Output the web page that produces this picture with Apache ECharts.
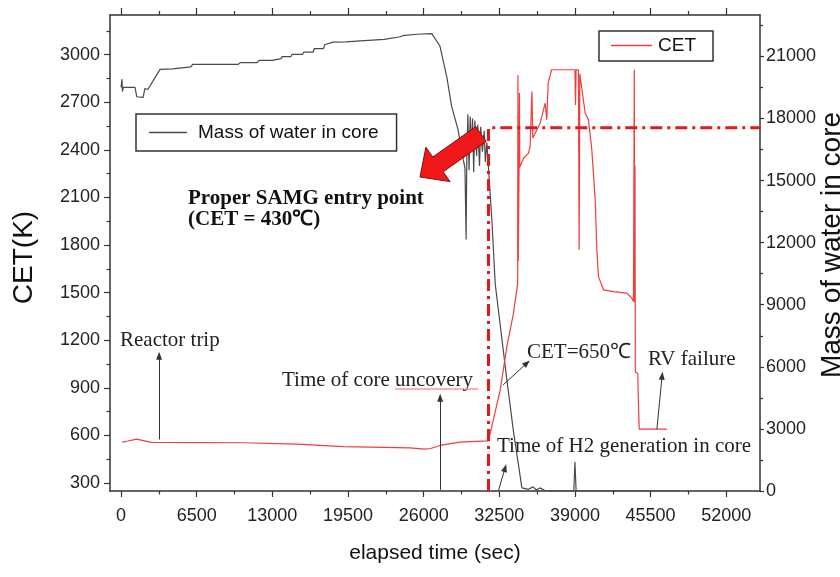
<!DOCTYPE html>
<html>
<head>
    <meta charset="utf-8">
    <title>CET and core water mass</title>
    <script src="https://cdn.jsdelivr.net/npm/echarts@6.0.0/dist/echarts.min.js"></script>
    <style>
        body { margin: 0; background: #fff; }
    </style>
</head>
<body>
<div id="main" style="width: 840px;height:577px;"></div>
<script type="text/javascript">
    // tick positions
    var xMajor = [0, 6500, 13000, 19500, 26000, 32500, 39000, 45500, 52000];
    var xMinor = [3250, 9750, 16250, 22750, 29250, 35750, 42250, 48750];
    var cetTicks = [300, 600, 900, 1200, 1500, 1800, 2100, 2400, 2700, 3000];
    var cetMinor = [450, 750, 1050, 1350, 1650, 1950, 2250, 2550, 2850, 3150];
    var massTicks = [0, 3000, 6000, 9000, 12000, 15000, 18000, 21000];
    var massMinor = [1500, 4500, 7500, 10500, 13500, 16500, 19500, 22500];

    // mass of water in core (right axis)
    var massTime = [0, 80, 120, 200, 1200, 1350, 1900, 2050, 2300, 3350, 4450, 4600, 6000, 6150,
        10050, 10250, 11700, 11850, 13000, 13100, 13750, 13850, 14600, 14700, 15600, 15700,
        16500, 16600, 17400, 17500, 18200, 19300, 19400, 20900, 21000, 22600, 22700, 24000,
        24200, 25400, 26700, 27400, 28000, 28400, 28950, 29400, 29550, 29650, 29700, 29800,
        29900, 30000, 30100, 30200, 30300, 30400, 30550, 30650, 30800, 30900, 31050, 31200,
        31300, 31430, 31860, 32150, 33150, 33700, 34440, 35000, 35400, 35700, 36000, 36500,
        38900, 39000, 39100, 48000];
    var massValue = [19500, 19900, 19300, 19500, 19500, 19050, 19020, 19450, 19400, 20370, 20400, 20490, 20490, 20610,
        20610, 20700, 20700, 20810, 20810, 20890, 20890, 20990, 20990, 21100, 21100, 21210,
        21210, 21380, 21380, 21560, 21690, 21700, 21760, 21760, 21820, 21820, 21900, 21950,
        22000, 22070, 22100, 21500, 19970, 18600, 17470, 16020, 15600, 12150, 15700, 18200,
        15500, 18100, 16500, 18000, 15400, 17900, 16200, 17700, 15700, 17600, 16400, 17400,
        15900, 16840, 13110, 10000, 5370, 2950, 150, 80, 200, 50, 150, 0,
        0, 1400, 0, 0];

    // core exit temperature (left axis)
    var cetTime = [100, 600, 1350, 1900, 2600, 10500, 15100, 19100, 24800, 26100,
        26600, 27400, 29100, 31570, 32580, 33150, 33720, 34080, 34100, 34130,
        34200, 34230, 34260, 34580, 35010, 35150, 35300, 35380, 35470, 36010,
        36440, 36580, 36700, 36990, 39000, 39050, 39100, 39300, 39360, 39420,
        39880, 40160, 40450, 40740, 40880, 41020, 41450, 42310, 43460, 43890,
        44030, 44100, 44130, 44160, 44190, 44400, 44420, 44480, 44520, 46900];
    var cetValue = [558, 565, 577, 568, 556, 554, 545, 530, 522, 514,
        518, 537, 558, 566, 887, 1160, 1371, 1560, 2870, 1700,
        2300, 2760, 2290, 2347, 2379, 2420, 2767, 2475, 2473, 2568,
        2694, 2590, 2820, 2905, 2905, 2683, 2905, 2905, 1770, 2880,
        2631, 2589, 2400, 2085, 1770, 1601, 1518, 1507, 1497, 1465,
        1444, 2905, 1440, 2300, 1000, 990, 900, 900, 640, 640];

    // SAMG entry marker (right axis)
    var entryTime = [31570, 31570, 54900];
    var entryMass = [0, 17550, 17550];

    // thin annotation arrows, [time, CET]
    var arrowFrom = [[3270, 575], [27420, 258], [32830, 919], [46040, 640], [32430, 255]];
    var arrowTo = [[3270, 1102], [27420, 838], [34870, 1056], [46490, 976], [33000, 395]];

    function pairs(xs, ys) {
        return xs.map(function (x, i) { return [x, ys[i]]; });
    }

    var SANS = 'Liberation Sans, Arial, sans-serif';
    var SERIF = 'Liberation Serif, Times New Roman, serif';
    var AX = '#333';

    var chartDom = document.getElementById('main');
    var myChart = echarts.init(chartDom);

    function tickAxis(pos, min, max, vals, len, lineOn) {
        return {
            type: 'value', position: pos, min: min, max: max,
            axisLine: { show: lineOn, onZero: false, lineStyle: { color: AX, width: 1.5 } },
            axisTick: { show: true, customValues: vals, length: len, lineStyle: { color: AX, width: 1.2 } },
            axisLabel: { show: false },
            splitLine: { show: false }
        };
    }

    var xMain = tickAxis('bottom', -950, 54900, xMajor, 6, true);
    xMain.name = 'elapsed time (sec)';
    xMain.nameLocation = 'middle';
    xMain.nameGap = 52;
    xMain.nameMoveOverlap = false;
    xMain.nameTextStyle = { fontSize: 21, fontFamily: SANS, color: '#111' };
    xMain.axisLabel = { show: true, customValues: xMajor, margin: 16, fontSize: 18, fontFamily: SANS, color: '#222',
        formatter: function (v) { return String(v); } };

    var yCet = tickAxis('left', 250, 3250, cetTicks, 6, true);
    yCet.name = 'CET(K)';
    yCet.nameLocation = 'middle';
    yCet.nameRotate = 90;
    yCet.nameGap = 72;
    yCet.nameMoveOverlap = false;
    yCet.nameTextStyle = { fontSize: 28, fontFamily: SANS, color: '#111', padding: [0, 9, 0, 0] };
    yCet.axisLabel = { show: true, customValues: cetTicks, margin: 10, fontSize: 18, fontFamily: SANS, color: '#222',
        formatter: function (v) { return String(v); } };

    var yMass = tickAxis('right', 0, 23000, massTicks, 4, true);
    yMass.name = 'Mass of water in core';
    yMass.nameLocation = 'middle';
    yMass.nameRotate = 90;
    yMass.nameGap = 58;
    yMass.nameMoveOverlap = false;
    yMass.nameTextStyle = { fontSize: 28, fontFamily: SANS, color: '#111', padding: [0, 0, 0, 16] };
    yMass.axisLabel = { show: true, customValues: massTicks, margin: 6, fontSize: 18, fontFamily: SANS, color: '#222',
        formatter: function (v) { return String(v); } };

    var option = {
        animation: false,
        backgroundColor: '#fff',
        grid: { left: 110, right: 80, top: 15, bottom: 86, containLabel: false, outerBoundsMode: 'none' },
        legend: [
            {
                data: ['Mass of water in core'], left: 136, top: 114, selectedMode: false,
                icon: 'rect', itemWidth: 38, itemHeight: 1.3,
                padding: [8, 18, 8, 13], borderColor: '#333', borderWidth: 1.5,
                textStyle: { fontSize: 19, fontFamily: SANS, color: '#111', lineHeight: 21, padding: [0, 0, 0, 6] }
            },
            {
                data: ['CET'], left: 599, top: 31, selectedMode: false,
                icon: 'rect', itemWidth: 41, itemHeight: 1.3,
                padding: [4, 17, 5, 12], borderColor: '#333', borderWidth: 1.5,
                textStyle: { fontSize: 19, fontFamily: SANS, color: '#111', lineHeight: 21, padding: [0, 0, 0, 1] }
            }
        ],
        xAxis: [
            xMain,
            tickAxis('bottom', -950, 54900, xMinor, 3.5, false),
            tickAxis('top', -950, 54900, xMajor, 7, true),
            tickAxis('top', -950, 54900, xMinor, 4, false)
        ],
        yAxis: [
            yCet,
            yMass,
            tickAxis('left', 250, 3250, cetMinor, 3.5, false),
            tickAxis('right', 0, 23000, massMinor, 3, false)
        ],
        series: [
            {
                name: 'Mass of water in core', type: 'line', xAxisIndex: 0, yAxisIndex: 1,
                data: pairs(massTime, massValue), symbol: 'none', showSymbol: false,
                color: '#4a4a4a', lineStyle: { color: '#4a4a4a', width: 1.2 }
            },
            {
                name: 'CET', type: 'line', xAxisIndex: 0, yAxisIndex: 0,
                data: pairs(cetTime, cetValue), symbol: 'none', showSymbol: false,
                color: '#f23c3c', lineStyle: { color: '#f23c3c', width: 1.2 },
                markLine: {
                    silent: true, animation: false,
                    symbol: ['none', 'triangle'], symbolSize: [6, 8],
                    lineStyle: { color: '#333', width: 1, type: 'solid' },
                    label: { show: false },
                    emphasis: { disabled: true },
                    data: arrowFrom.map(function (f, i) {
                        return [{ coord: f }, { coord: arrowTo[i] }];
                    })
                }
            },
            {
                name: 'SAMG entry', type: 'line', xAxisIndex: 0, yAxisIndex: 1,
                data: pairs(entryTime, entryMass), symbol: 'none', showSymbol: false,
                color: '#e41818', lineStyle: { color: '#e41818', width: 3, type: [12, 5, 3, 5] }
            }
        ],
        graphic: [
            {
                type: 'polygon', z: 100,
                shape: { points: [[475.8, 126.6], [432.8, 157], [425.9, 147.2], [420, 177],
                    [450.1, 181.6], [443.2, 171.8], [486.2, 141.4]] },
                style: { fill: '#f01818', stroke: '#801010', lineWidth: 1 }
            },
            { type: 'text', x: 188, y: 199, style: { text: 'Proper SAMG entry point', fontSize: 21, fontWeight: 'bold', fontFamily: SERIF, fill: '#111', verticalAlign: 'middle' } },
            { type: 'text', x: 188, y: 220, style: { text: '(CET = 430\u2103)', fontSize: 21, fontWeight: 'bold', fontFamily: SERIF, fill: '#111', verticalAlign: 'middle' } },
            { type: 'text', x: 120, y: 340, style: { text: 'Reactor trip', fontSize: 21, fontFamily: SERIF, fill: '#222', verticalAlign: 'middle' } },
            { type: 'text', x: 282, y: 380, style: { text: 'Time of core uncovery', fontSize: 21, fontFamily: SERIF, fill: '#222', verticalAlign: 'middle' } },
            { type: 'line', shape: { x1: 395, y1: 389, x2: 478, y2: 389 }, style: { stroke: '#e26a6a', lineWidth: 1 } },
            { type: 'text', x: 527, y: 352, style: { text: 'CET=650\u2103', fontSize: 21, fontFamily: SERIF, fill: '#222', verticalAlign: 'middle' } },
            { type: 'text', x: 648, y: 359, style: { text: 'RV failure', fontSize: 21, fontFamily: SERIF, fill: '#222', verticalAlign: 'middle' } },
            { type: 'text', x: 497, y: 446, style: { text: 'Time of H2 generation in core', fontSize: 21, fontFamily: SERIF, fill: '#222', verticalAlign: 'middle' } }
        ]
    };

    if (option && typeof option === 'object') {
        myChart.setOption(option);
    }
</script>
</body>
</html>
